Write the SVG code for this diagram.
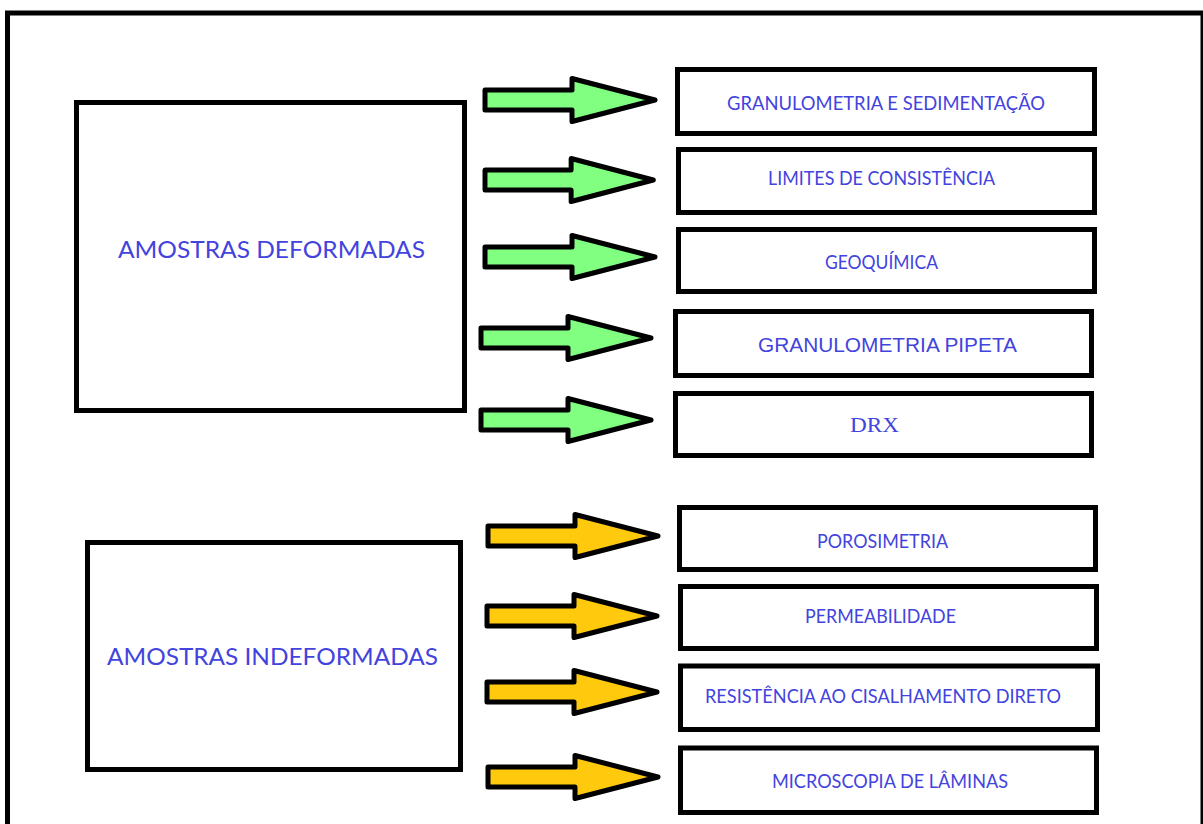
<svg xmlns="http://www.w3.org/2000/svg" xmlns:xlink="http://www.w3.org/1999/xlink" width="1203" height="824" viewBox="0 0 1203 824">
<style>
.box{fill:#ffffff;stroke:#000000;stroke-width:5}
.lbl{font-family:Lato,"Open Sans",sans-serif;fill:#4343DD;text-anchor:middle}
.big{font-size:24px}
.small{font-size:18.5px}
.arrow{stroke:#000000;stroke-width:5;stroke-linejoin:round}
.green{fill:#80FF80}
.yellow{fill:#FFC90E}
</style>
<defs>
<path id="arr" d="M0,-10 H87 V-21.5 L170,0 L87,21.5 V10 H0 Z"/>
</defs>
<rect x="0" y="0" width="1203" height="824" fill="#ffffff"/>
<rect id="frame" x="7.5" y="13" width="1195.5" height="900" fill="none" stroke="#000000" stroke-width="5"/>

<g id="connectors">
<use xlink:href="#arr" class="arrow green" transform="translate(485,100)"/>
<use xlink:href="#arr" class="arrow green" transform="translate(485,180) scale(0.99,1)"/>
<use xlink:href="#arr" class="arrow green" transform="translate(485,257)"/>
<use xlink:href="#arr" class="arrow green" transform="translate(481,338)"/>
<use xlink:href="#arr" class="arrow green" transform="translate(481,420)"/>
<use xlink:href="#arr" class="arrow yellow" transform="translate(488,536)"/>
<use xlink:href="#arr" class="arrow yellow" transform="translate(487,616)"/>
<use xlink:href="#arr" class="arrow yellow" transform="translate(487,692)"/>
<use xlink:href="#arr" class="arrow yellow" transform="translate(488,777)"/>
</g>

<g id="deformadas">
<rect class="box" x="76.5" y="102.5" width="388" height="308"/>
<text class="lbl big" x="271.5" y="258" textLength="307" lengthAdjust="spacingAndGlyphs">AMOSTRAS DEFORMADAS</text>
</g>
<g id="indeformadas">
<rect class="box" x="87.5" y="542.5" width="373" height="227"/>
<text class="lbl big" x="272.5" y="665" textLength="331" lengthAdjust="spacingAndGlyphs">AMOSTRAS INDEFORMADAS</text>
</g>

<g id="granulometria-sedimentacao">
<rect class="box" x="677.5" y="69.5" width="417" height="64"/>
<text class="lbl small" x="886" y="110" textLength="318" lengthAdjust="spacingAndGlyphs">GRANULOMETRIA E SEDIMENTAÇÃO</text>
</g>
<g id="limites">
<rect class="box" x="678.5" y="149.5" width="416" height="63"/>
<text class="lbl small" x="881.5" y="185" textLength="227" lengthAdjust="spacingAndGlyphs">LIMITES DE CONSISTÊNCIA</text>
</g>
<g id="geoquimica">
<rect class="box" x="678.5" y="229.5" width="416" height="62"/>
<text class="lbl small" x="881.5" y="269" textLength="113" lengthAdjust="spacingAndGlyphs">GEOQUÍMICA</text>
</g>
<g id="granulometria-pipeta">
<rect class="box" x="675.5" y="311.5" width="416" height="64"/>
<text x="887.5" y="352" font-family="'Liberation Sans',Arial,sans-serif" font-size="20.5px" fill="#4343DD" text-anchor="middle" textLength="259" lengthAdjust="spacingAndGlyphs">GRANULOMETRIA PIPETA</text>
</g>
<g id="drx">
<rect class="box" x="675.5" y="393.5" width="416" height="62"/>
<text x="874.5" y="432" font-family="'Liberation Serif','Times New Roman',serif" font-size="22px" fill="#4343DD" text-anchor="middle" textLength="49" lengthAdjust="spacingAndGlyphs">DRX</text>
</g>
<g id="porosimetria">
<rect class="box" x="679.5" y="507.5" width="416" height="62"/>
<text class="lbl small" x="882.5" y="548" textLength="131" lengthAdjust="spacingAndGlyphs">POROSIMETRIA</text>
</g>
<g id="permeabilidade">
<rect class="box" x="680.5" y="586.5" width="416" height="62"/>
<text class="lbl small" x="880.5" y="623" textLength="151" lengthAdjust="spacingAndGlyphs">PERMEABILIDADE</text>
</g>
<g id="resistencia">
<rect class="box" x="680.5" y="666" width="417" height="63.5"/>
<text class="lbl small" x="883" y="703" textLength="356" lengthAdjust="spacingAndGlyphs">RESISTÊNCIA AO CISALHAMENTO DIRETO</text>
</g>
<g id="microscopia">
<rect class="box" x="680.5" y="748" width="416" height="64.5"/>
<text class="lbl small" x="890" y="788" textLength="236" lengthAdjust="spacingAndGlyphs">MICROSCOPIA DE LÂMINAS</text>
</g>
</svg>
